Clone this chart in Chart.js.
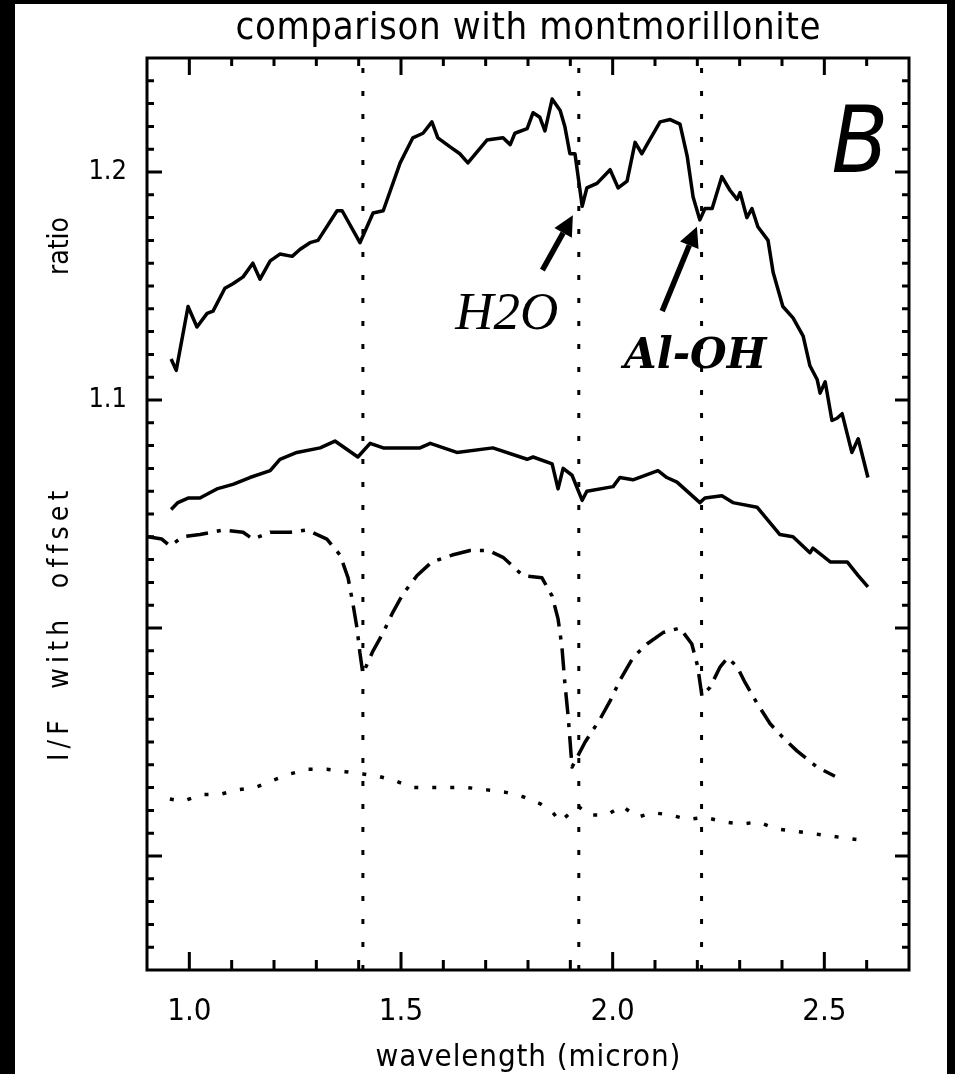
<!DOCTYPE html>
<html>
<head>
<meta charset="utf-8">
<script src="https://cdn.jsdelivr.net/npm/chart.js@4.4.1/dist/chart.umd.min.js"></script>
<style>
html, body { margin: 0; padding: 0; background: #fff; }
canvas { display: block; }
</style>
</head>
<body>
<canvas id="myChart" width="955" height="1074"></canvas>
<script>
// top curve: ratio
const ratioX = [0.957,0.969,0.997,1.018,1.042,1.056,1.084,1.103,1.127,1.150,1.167,1.191,1.214,1.243,1.261,1.285,1.304,1.349,1.361,1.403,1.434,1.458,1.498,1.528,1.552,1.573,1.587,1.616,1.639,1.658,1.703,1.741,1.758,1.769,1.798,1.812,1.828,1.840,1.857,1.876,1.887,1.899,1.911,1.928,1.939,1.963,1.994,2.013,2.034,2.053,2.069,2.081,2.112,2.136,2.159,2.176,2.190,2.206,2.218,2.235,2.258,2.277,2.294,2.301,2.317,2.329,2.343,2.367,2.379,2.402,2.426,2.450,2.466,2.483,2.490,2.502,2.518,2.530,2.542,2.565,2.580,2.603];
const ratioY = [1.118,1.113,1.141,1.132,1.138,1.139,1.149,1.151,1.154,1.160,1.153,1.161,1.164,1.163,1.166,1.169,1.170,1.183,1.183,1.169,1.182,1.183,1.204,1.215,1.217,1.222,1.215,1.211,1.208,1.204,1.214,1.215,1.212,1.217,1.219,1.226,1.224,1.218,1.232,1.227,1.220,1.208,1.208,1.185,1.193,1.195,1.201,1.193,1.196,1.213,1.208,1.212,1.222,1.223,1.221,1.207,1.189,1.179,1.184,1.184,1.198,1.192,1.188,1.191,1.180,1.184,1.176,1.170,1.156,1.141,1.136,1.128,1.115,1.109,1.103,1.108,1.091,1.092,1.094,1.077,1.083,1.066];

// second curve (solid, offset)
const specX = [0.957,0.973,0.997,1.025,1.065,1.103,1.143,1.191,1.214,1.254,1.309,1.344,1.398,1.427,1.458,1.498,1.545,1.569,1.632,1.717,1.798,1.812,1.857,1.871,1.883,1.904,1.928,1.939,2.001,2.017,2.048,2.107,2.128,2.152,2.206,2.218,2.258,2.284,2.341,2.395,2.426,2.466,2.473,2.514,2.542,2.554,2.580,2.603];
const specY = [1.052,1.055,1.057,1.057,1.061,1.063,1.066,1.069,1.074,1.077,1.079,1.082,1.075,1.081,1.079,1.079,1.079,1.081,1.077,1.079,1.074,1.075,1.072,1.061,1.070,1.067,1.056,1.060,1.062,1.066,1.065,1.069,1.066,1.064,1.055,1.057,1.058,1.055,1.053,1.041,1.040,1.033,1.035,1.029,1.029,1.029,1.023,1.018];

// montmorillonite (dash-dot)
const montX = [0.902,0.935,0.954,0.985,1.025,1.080,1.127,1.150,1.191,1.238,1.278,1.325,1.356,1.375,1.387,1.396,1.403,1.410,1.434,1.458,1.481,1.505,1.538,1.573,1.621,1.663,1.706,1.741,1.788,1.833,1.857,1.871,1.880,1.887,1.895,1.904,1.935,1.970,1.994,2.017,2.048,2.081,2.119,2.159,2.187,2.201,2.211,2.230,2.254,2.272,2.294,2.313,2.341,2.372,2.402,2.436,2.483,2.525];
const montY = [1.040,1.039,1.036,1.040,1.041,1.043,1.042,1.039,1.042,1.042,1.043,1.039,1.032,1.022,1.010,1.000,0.989,0.980,0.990,0.998,1.007,1.015,1.023,1.029,1.032,1.034,1.034,1.031,1.023,1.022,1.014,1.004,0.992,0.976,0.961,0.939,0.950,0.960,0.968,0.977,0.987,0.993,0.998,1.000,0.993,0.983,0.970,0.974,0.983,0.987,0.983,0.976,0.967,0.958,0.952,0.946,0.939,0.935];

// bottom curve (dotted)
const dotX = [0.954,0.985,1.030,1.072,1.113,1.155,1.195,1.238,1.280,1.325,1.368,1.410,1.446,1.486,1.528,1.573,1.616,1.658,1.703,1.746,1.788,1.828,1.859,1.876,1.906,1.918,1.942,1.987,2.022,2.058,2.095,2.136,2.178,2.218,2.261,2.306,2.343,2.384,2.426,2.466,2.506,2.544,2.584];
const dotY = [0.925,0.924,0.927,0.927,0.929,0.930,0.933,0.936,0.938,0.938,0.937,0.936,0.935,0.933,0.930,0.930,0.930,0.930,0.929,0.928,0.926,0.923,0.919,0.915,0.920,0.922,0.918,0.918,0.922,0.917,0.919,0.918,0.916,0.917,0.915,0.914,0.915,0.912,0.911,0.910,0.909,0.908,0.907];

// absorption band positions (vertical dotted lines)
const bandX = [1.41, 1.92, 2.21];

const xTicks = [1.0, 1.5, 2.0, 2.5];
const yTicks = [1.1, 1.2];
const xMin = 0.9, xMax = 2.7, yMin = 0.85, yMax = 1.25;

function zip(xs, ys) {
    let out = [];
    for (let i = 0; i < Math.min(xs.length, ys.length); i++) out.push({x: xs[i], y: ys[i]});
    return out;
}

let datasets = [
    {data: zip(ratioX, ratioY), borderWidth: 3.5},
    {data: zip(specX, specY), borderWidth: 3.5},
    {data: zip(montX, montY), borderWidth: 3.5, borderDash: [22, 9, 4, 9]},
    {data: zip(dotX, dotY), borderWidth: 3.5, borderDash: [4, 14]}
];
bandX.forEach(b => {
    datasets.push({data: [{x: b, y: yMin}, {x: b, y: yMax}], borderWidth: 3, borderDash: [5, 18]});
});
datasets.forEach(d => {
    d.borderColor = '#000';
    d.pointRadius = 0;
    d.fill = false;
    d.tension = 0;
    d.borderJoinStyle = 'round';
});

const tickFont = '"Liberation Sans Narrow", "DejaVu Sans Condensed", sans-serif';
const labelFont = '"DejaVu Sans Condensed", "DejaVu Sans", sans-serif';

// draw text stretched to a given width by letter spacing
function spreadText(c, txt, cx, cy, width) {
    c.letterSpacing = '0px';
    const w = c.measureText(txt).width;
    const sp = Math.max(0, (width - w) / (txt.length - 1));
    c.letterSpacing = sp + 'px';
    c.textAlign = 'left';
    c.fillText(txt, cx - Math.max(width, w) / 2, cy);
    c.letterSpacing = '0px';
}

const decor = {
    id: 'decor',
    beforeDraw(chart) {
        const c = chart.ctx;
        c.save();
        c.fillStyle = '#fff';
        c.fillRect(0, 0, chart.width, chart.height);
        c.fillStyle = '#000';
        c.fillRect(0, 0, 15, chart.height);
        c.fillRect(0, 0, chart.width, 4);
        c.fillRect(chart.width - 8, 0, 8, chart.height);
        c.restore();
    },
    afterDraw(chart) {
        const c = chart.ctx, a = chart.chartArea;
        const xs = chart.scales.x, ys = chart.scales.y;
        c.save();
        c.strokeStyle = '#000';
        c.lineWidth = 3;
        c.strokeRect(a.left, a.top, a.right - a.left, a.bottom - a.top);
        // inward tick marks on all four sides
        c.beginPath();
        for (let i = 1; i < 18; i++) {
            const v = xMin + i * 0.1;
            const px = xs.getPixelForValue(v);
            const major = Math.abs(v * 2 - Math.round(v * 2)) < 1e-6;
            c.moveTo(px, a.bottom); c.lineTo(px, a.bottom - (major ? 18 : 10));
            c.moveTo(px, a.top); c.lineTo(px, a.top + (major ? 17 : 8));
        }
        for (let i = 1; i < 40; i++) {
            const v = yMin + i * 0.01;
            const py = ys.getPixelForValue(v);
            const major = Math.abs(v * 10 - Math.round(v * 10)) < 1e-6;
            c.moveTo(a.left, py); c.lineTo(a.left + (major ? 15 : 7), py);
            c.moveTo(a.right, py); c.lineTo(a.right - (major ? 14 : 7), py);
        }
        c.stroke();

        // arrows
        function arrow(x0, y0, x1, y1) {
            const p0 = [xs.getPixelForValue(x0), ys.getPixelForValue(y0)];
            const p1 = [xs.getPixelForValue(x1), ys.getPixelForValue(y1)];
            const ang = Math.atan2(p1[1] - p0[1], p1[0] - p0[0]);
            const hl = 20, hw = 10;
            const bx = p1[0] - hl * Math.cos(ang), by = p1[1] - hl * Math.sin(ang);
            c.lineWidth = 5.5;
            c.beginPath();
            c.moveTo(p0[0], p0[1]); c.lineTo(bx, by);
            c.stroke();
            c.beginPath();
            c.moveTo(p1[0], p1[1]);
            c.lineTo(bx + hw * Math.sin(ang), by - hw * Math.cos(ang));
            c.lineTo(bx - hw * Math.sin(ang), by + hw * Math.cos(ang));
            c.closePath();
            c.fill();
        }
        arrow(1.834, 1.157, 1.906, 1.181);
        arrow(2.117, 1.139, 2.199, 1.176);

        c.fillStyle = '#000';
        c.textBaseline = 'alphabetic';
        c.textAlign = 'left';
        c.font = 'italic 53px "Liberation Serif", serif';
        c.fillText('H2O', xs.getPixelForValue(1.628), ys.getPixelForValue(1.131));
        c.font = 'italic bold 42px "DejaVu Serif", serif';
        c.fillText('Al-OH', xs.getPixelForValue(2.027), ys.getPixelForValue(1.114));
        c.font = 'italic 92px ' + tickFont;
        c.fillText('B', xs.getPixelForValue(2.517), ys.getPixelForValue(1.200));

        // titles
        c.font = '38px ' + labelFont;
        spreadText(c, 'comparison with montmorillonite', (a.left + a.right) / 2, 39, 585);
        c.font = '31px ' + labelFont;
        spreadText(c, 'wavelength (micron)', (a.left + a.right) / 2, 1066, 305);
        c.translate(68, 0);
        c.rotate(-Math.PI / 2);
        c.font = '28px ' + labelFont;
        spreadText(c, 'ratio', -246, 0, 56);
        spreadText(c, 'I/F  with  offset', -626, 0, 270);
        c.restore();
    }
};

const ctx = document.getElementById('myChart');
const myChart = new Chart(ctx, {
    type: 'line',
    data: {datasets: datasets},
    options: {
        responsive: false,
        devicePixelRatio: 1,
        animation: false,
        layout: {padding: {left: 0, right: 46, top: 58, bottom: 0}},
        plugins: {legend: {display: false}, tooltip: {enabled: false}, title: {display: false}},
        scales: {
            x: {
                type: 'linear', min: xMin, max: xMax,
                grid: {display: false}, border: {display: false},
                afterBuildTicks: s => { s.ticks = xTicks.map(v => ({value: v})); },
                afterFit: s => { s.height = 104; },
                ticks: {color: '#000', padding: 15, font: {family: tickFont, size: 31},
                    callback: v => v.toFixed(1), maxRotation: 0}
            },
            y: {
                type: 'linear', min: yMin, max: yMax,
                grid: {display: false}, border: {display: false},
                afterBuildTicks: s => { s.ticks = yTicks.map(v => ({value: v})); },
                afterFit: s => { s.width = 147; },
                ticks: {color: '#000', padding: 12, font: {family: tickFont, size: 27},
                    callback: v => v.toFixed(1)}
            }
        }
    },
    plugins: [decor]
});
</script>
</body>
</html>
